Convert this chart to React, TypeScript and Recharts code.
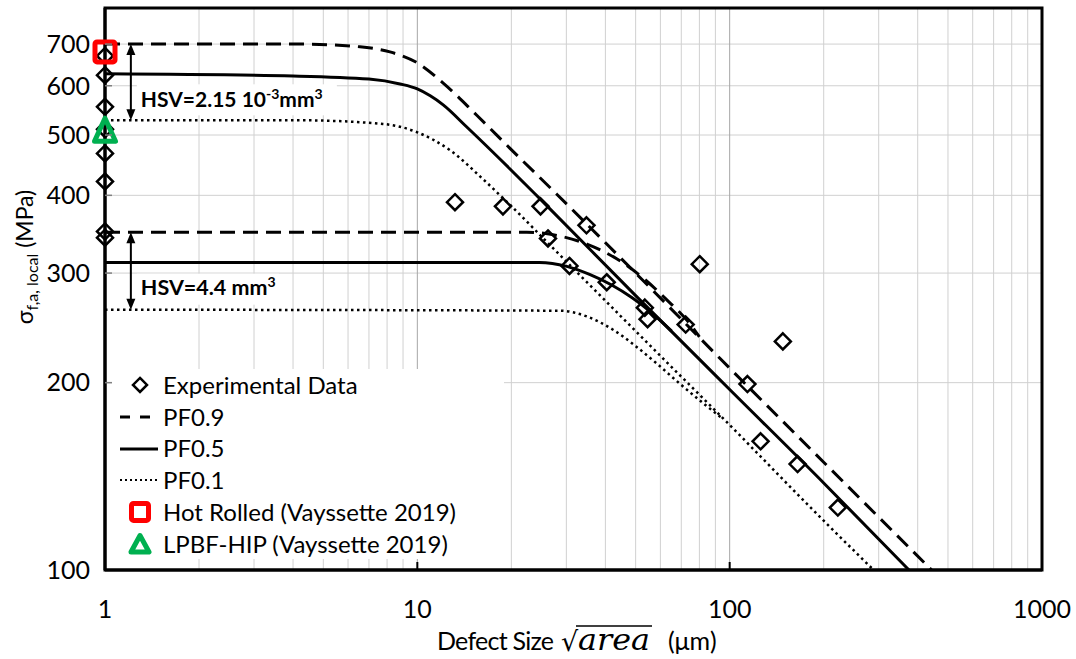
import {
  ComposedChart,
  Line,
  Scatter,
  XAxis,
  YAxis,
  CartesianGrid,
  ReferenceLine,
  ReferenceArea,
  Legend,
} from 'recharts'

const FONT = 'Lato, "Open Sans", sans-serif'
const SERIF = '"DejaVu Serif", serif'

// experimental points (defect size um, stress MPa)
const EXP_X = [1, 1, 1, 1, 1, 1, 1, 1, 13.2, 18.8, 24.8, 26.2, 30.7, 34.8, 40.4, 53.5, 54.6, 72.3, 80.2, 114, 125.6, 148, 165, 222]
const EXP_Y = [670, 624, 555, 511, 467, 421, 350, 342, 390, 384, 384, 341, 308, 358, 290, 264, 253, 248, 310, 199, 161, 233, 148, 126]

const HOT_X = [1]
const HOT_Y = [680]
const HIP_X = [1]
const HIP_Y = [510]

// HSV = 2.15e-3 mm3
const PF09_HI_X = [1, 4.2, 6.55, 8.17, 10, 12.1, 15.5, 19.8, 27.9, 50, 100, 200, 443]
const PF09_HI_Y = [700, 700, 693, 680, 653, 606, 538, 476, 402, 300, 211, 149, 100]
const PF05_HI_X = [1, 4, 7, 8.8, 10, 11, 12.1, 14.4, 19.8, 24.8, 50, 100, 200, 375]
const PF05_HI_Y = [627, 622, 615, 604, 593, 578, 559, 515, 441, 394, 276, 195, 138, 100]
const PF01_HI_X = [1, 4.2, 7.76, 10, 12.7, 16.2, 18.8, 30, 50, 100, 200, 289]
const PF01_HI_Y = [528, 528, 521, 505, 473, 425, 396, 313, 242, 171, 120, 100]

// HSV = 4.4 mm3 (these merge into the curves above)
const PF09_LO_X = [1, 18.3, 22.4, 28.6, 34.9, 43.6, 53.5, 62.8, 74.4, 80]
const PF09_LO_Y = [349, 349, 349, 344, 334, 316, 293, 272, 249, 237]
const PF05_LO_X = [1, 24.6, 30.1, 35.6, 41.9, 48.6, 56.3, 65.2]
const PF05_LO_Y = [312, 312, 307.5, 298.5, 287, 274, 259, 242]
const PF01_LO_X = [1, 28.6, 34.9, 42.2, 49.7, 58.4, 69.2, 83.2, 95]
const PF01_LO_Y = [262, 261, 255.5, 243.5, 229.5, 214.7, 199.3, 184.5, 175]

const X_GRID = [
  1, 2, 3, 4, 5, 6, 7, 8, 9,
  10, 20, 30, 40, 50, 60, 70, 80, 90,
  100, 200, 300, 400, 500, 600, 700, 800, 900, 1000,
]
const X_LABELS = [1, 10, 100, 1000]
const X_MAJOR = [10, 100]
const Y_TICKS = [100, 200, 300, 400, 500, 600, 700]

const ARROW_X = 1.21
const HSV_HI = [700, 528]
const HSV_LO = [349, 262]

const LEGEND_NAMES = [
  'Experimental Data',
  'PF0.9',
  'PF0.5',
  'PF0.1',
  'Hot Rolled (Vayssette 2019)',
  'LPBF-HIP (Vayssette 2019)',
]

const RED = '#ff0000'
const GREEN = '#00b050'

const pts = (xs: number[], ys: number[]) => xs.map((x, i) => ({ x, y: ys[i] }))

const DASH = '15 8'
const DOT = '2.5 3.5'

const curves = [
  { id: 'pf09hi', data: pts(PF09_HI_X, PF09_HI_Y), dash: DASH, w: 3 },
  { id: 'pf05hi', data: pts(PF05_HI_X, PF05_HI_Y), dash: undefined, w: 3 },
  { id: 'pf01hi', data: pts(PF01_HI_X, PF01_HI_Y), dash: DOT, w: 2.5 },
  { id: 'pf09lo', data: pts(PF09_LO_X, PF09_LO_Y), dash: DASH, w: 3 },
  { id: 'pf05lo', data: pts(PF05_LO_X, PF05_LO_Y), dash: undefined, w: 3 },
  { id: 'pf01lo', data: pts(PF01_LO_X, PF01_LO_Y), dash: DOT, w: 2.5 },
]

const Diamond = ({ cx, cy }: any) => (
  <polygon
    points={`${cx},${cy - 8} ${cx + 8},${cy} ${cx},${cy + 8} ${cx - 8},${cy}`}
    fill="none"
    stroke="#000"
    strokeWidth={2.5}
  />
)

const Square = ({ cx, cy }: any) => (
  <rect x={cx - 10} y={cy - 10} width={20} height={20} rx={2} fill="none" stroke={RED} strokeWidth={5} />
)

const Triangle = ({ cx, cy }: any) => (
  <polygon
    points={`${cx},${cy - 11.5} ${cx + 10.5},${cy + 11.5} ${cx - 10.5},${cy + 11.5}`}
    fill="none"
    stroke={GREEN}
    strokeWidth={5}
    strokeLinejoin="round"
  />
)

const XTick = ({ x, y, payload }: any) => {
  const v = payload.value
  return (
    <g>
      {X_MAJOR.includes(v) && <line x1={x} x2={x} y1={y} y2={y - 8} stroke="#000" strokeWidth={2} />}
      {X_LABELS.includes(v) && (
        <text x={x} y={y + 39} dy="0.35em" textAnchor="middle" fontSize={25} fill="#000" fontFamily={FONT}>
          {v}
        </text>
      )}
    </g>
  )
}

const YTick = ({ x, y, payload }: any) => (
  <g>
    {payload.value !== 100 && <line x1={x} x2={x + 7} y1={y} y2={y} stroke="#808080" strokeWidth={1.5} />}
    <text x={x - 15} y={y} dy="0.35em" textAnchor="end" fontSize={25} fill="#000" fontFamily={FONT}>
      {payload.value}
    </text>
  </g>
)

const gridLine = (props: any) => {
  const v = X_GRID[props.index]
  return (
    <line
      key={props.key}
      x1={props.x1}
      x2={props.x2}
      y1={props.y1}
      y2={props.y2}
      stroke={X_MAJOR.includes(v) ? '#a6a6a6' : '#d0d0d0'}
      strokeWidth={1}
    />
  )
}

const arrow = (x: number, top: number, bot: number) => (
  <>
    <line x1={x} x2={x} y1={top + 8} y2={bot - 8} stroke="#000" strokeWidth={2} />
    <polygon points={`${x},${top} ${x - 4.5},${top + 11} ${x + 4.5},${top + 11}`} fill="#000" />
    <polygon points={`${x},${bot} ${x - 4.5},${bot - 11} ${x + 4.5},${bot - 11}`} fill="#000" />
  </>
)

const HsvHi = (props: any) => {
  const x = props.x1
  const top = Math.min(props.y1, props.y2)
  const bot = Math.max(props.y1, props.y2)
  return (
    <g>
      <rect x={x + 6} y={bot - 36} width={200} height={31} fill="#fff" />
      {arrow(x, top, bot)}
      <text x={x + 10} y={bot - 13} fontSize={21} fontWeight={700} fontFamily={FONT} fill="#000">
        HSV=2.15 10
        <tspan dy={-8} fontSize={14}>-3</tspan>
        <tspan dy={8}>mm</tspan>
        <tspan dy={-8} fontSize={14}>3</tspan>
      </text>
    </g>
  )
}

const HsvLo = (props: any) => {
  const x = props.x1
  const top = Math.min(props.y1, props.y2)
  const bot = Math.max(props.y1, props.y2)
  return (
    <g>
      <rect x={x + 6} y={bot - 36} width={142} height={31} fill="#fff" />
      {arrow(x, top, bot)}
      <text x={x + 10} y={bot - 15} fontSize={21.5} fontWeight={700} fontFamily={FONT} fill="#000">
        HSV=4.4 mm
        <tspan dy={-8} fontSize={14}>3</tspan>
      </text>
    </g>
  )
}

const legendIcon = (i: number) => {
  switch (i) {
    case 0:
      return <polygon points="28,8.9 35,15.9 28,22.9 21,15.9" fill="none" stroke="#000" strokeWidth={2.5} />
    case 1:
      return <line x1={8} x2={46} y1={15.9} y2={15.9} stroke="#000" strokeWidth={3} strokeDasharray="10 10" />
    case 2:
      return <line x1={8} x2={46} y1={15.9} y2={15.9} stroke="#000" strokeWidth={3} />
    case 3:
      return <line x1={8} x2={46} y1={15.9} y2={15.9} stroke="#000" strokeWidth={2} strokeDasharray="2 3" />
    case 4:
      return <rect x={19.5} y={7.4} width={17} height={17} rx={2} fill="none" stroke={RED} strokeWidth={5} />
    default:
      return (
        <polygon points="28,7.5 37,24 19,24" fill="none" stroke={GREEN} strokeWidth={5} strokeLinejoin="round" />
      )
  }
}

const renderLegend = () => (
  <div style={{ background: '#fff', width: 392, height: 190, fontFamily: FONT }}>
    {LEGEND_NAMES.map((name, i) => (
      <div key={name} style={{ display: 'flex', alignItems: 'center', height: 31.8 }}>
        <svg width={51} height={31.8} style={{ flex: 'none' }}>
          {legendIcon(i)}
        </svg>
        <span style={{ fontSize: 24, color: '#000', whiteSpace: 'nowrap', lineHeight: 1 }}>{name}</span>
      </div>
    ))}
  </div>
)

const YTitle = () => (
  <text transform="translate(33,257) rotate(-90)" textAnchor="middle" fontSize={23} fontFamily={FONT} fill="#000">
    σ
    <tspan fontSize={16} dy={5}>f,a, local</tspan>
    <tspan dy={-5}>{'\u00a0(MPa)'}</tspan>
  </text>
)

const XTitle = () => (
  <g fill="#000">
    <text x={437} y={650} fontSize={25} fontFamily={FONT} textLength={117} lengthAdjust="spacing">
      Defect Size
    </text>
    <text x={561} y={651} fontSize={27} fontFamily={SERIF}>
      √
    </text>
    <line x1={576} x2={652} y1={626} y2={626} stroke="#000" strokeWidth={1.5} />
    <text x={578} y={650} fontSize={30} fontFamily={SERIF} fontStyle="italic" textLength={72} lengthAdjust="spacingAndGlyphs">
      area
    </text>
    <text x={668} y={650} fontSize={25} fontFamily={FONT}>
      (μm)
    </text>
  </g>
)

export default function App() {
  return (
    <div style={{ position: 'absolute', left: 0, top: 0, width: 1076, height: 659, background: '#fff', fontFamily: FONT }}>
      <ComposedChart width={1076} height={659} margin={{ top: 8, right: 34, bottom: 0, left: 0 }}>
        <CartesianGrid stroke="#d0d0d0" vertical={gridLine} />
        <XAxis
          dataKey="x"
          type="number"
          scale="log"
          domain={[1, 1000]}
          ticks={X_GRID}
          interval={0}
          tickLine={false}
          tickSize={0}
          tickMargin={0}
          tick={<XTick />}
          axisLine={{ stroke: '#000', strokeWidth: 3 }}
          height={89}
          label={<XTitle />}
        />
        <YAxis
          dataKey="y"
          type="number"
          scale="log"
          domain={[100, 800]}
          ticks={Y_TICKS}
          interval={0}
          tickLine={false}
          tickSize={0}
          tickMargin={0}
          tick={<YTick />}
          axisLine={{ stroke: '#000', strokeWidth: 3 }}
          width={105}
          label={<YTitle />}
        />
        <ReferenceLine
          segment={[{ x: ARROW_X, y: HSV_HI[0] }, { x: ARROW_X, y: HSV_HI[1] }]}
          shape={HsvHi}
        />
        <ReferenceLine
          segment={[{ x: ARROW_X, y: HSV_LO[0] }, { x: ARROW_X, y: HSV_LO[1] }]}
          shape={HsvLo}
        />
        {curves.map((c) => (
          <Line
            key={c.id}
            data={c.data}
            dataKey="y"
            type="monotone"
            stroke="#000"
            strokeWidth={c.w}
            strokeDasharray={c.dash}
            dot={false}
            activeDot={false}
            legendType="none"
            isAnimationActive={false}
          />
        ))}
        <Scatter data={pts(EXP_X, EXP_Y)} shape={Diamond} isAnimationActive={false} />
        <Scatter data={pts(HOT_X, HOT_Y)} shape={Square} isAnimationActive={false} />
        <Scatter data={pts(HIP_X, HIP_Y)} shape={Triangle} isAnimationActive={false} />
        <ReferenceArea x1={1} x2={1000} y1={100} y2={800} fill="none" stroke="#000" strokeWidth={3} />
        <Legend
          layout="vertical"
          align="center"
          verticalAlign="middle"
          content={renderLegend}
          wrapperStyle={{ position: 'absolute', left: 112, top: 369, width: 392, height: 190 }}
        />
      </ComposedChart>
    </div>
  )
}
